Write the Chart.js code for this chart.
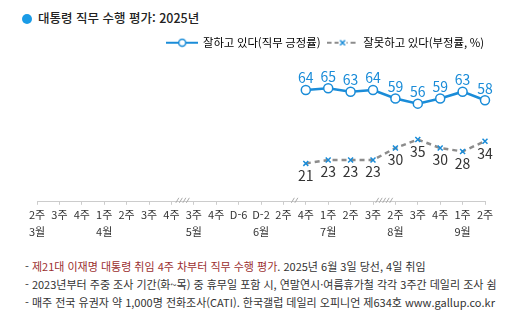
<!DOCTYPE html>
<html lang="ko">
<head>
<meta charset="utf-8">
<script src="https://cdn.jsdelivr.net/npm/chart.js@4"></script>
<style>
  html, body { margin: 0; padding: 0; background: #fff; }
  body { width: 509px; height: 324px; position: relative; overflow: hidden; font-family: 'Noto Sans CJK KR', sans-serif; color: #333; }
  #title { position: absolute; left: 22px; top: 9px; font-size: 12.5px; font-weight: 500; color: #222; line-height: 18px; white-space: nowrap; }
  #title .dot { display: inline-block; width: 10px; height: 10px; border-radius: 50%; background: #1a9be6; margin-right: 6px; vertical-align: -1px; }
  #wrap { position: absolute; left: 0; top: 30px; width: 509px; height: 220px; }
  #notes { position: absolute; left: 25px; top: 257px; font-size: 11px; line-height: 18px; white-space: nowrap; color: #333; }
  .red { color: #9b2f2f; }
</style>
</head>
<body>
<div id="title"><span class="dot"></span>대통령 직무 수행 평가: 2025년</div>
<div id="wrap"><canvas id="myChart"></canvas></div>
<div id="notes">
  <div>- <span class="red">제21대 이재명 대통령 취임 4주 차부터 직무 수행 평가</span>. 2025년 6월 3일 당선, 4일 취임</div>
  <div>- 2023년부터 주중 조사 기간(화~목) 중 휴무일 포함 시, 연말연시·여름휴가철 각각 3주간 데일리 조사 쉼</div>
  <div>- 매주 전국 유권자 약 1,000명 전화조사(CATI). 한국갤럽 데일리 오피니언 제634호 www.gallup.co.kr</div>
</div>
<script>
const weekLabels = ["2주", "3주", "4주", "1주", "2주", "3주", "4주", "3주", "4주", "D-6", "D-2", "2주", "4주", "1주", "2주", "3주", "2주", "3주", "4주", "1주", "2주"];
const monthLabels = ["3월", "", "", "4월", "", "", "", "5월", "", "", "6월", "", "", "7월", "", "", "8월", "", "", "9월", ""];
const approve = [null, null, null, null, null, null, null, null, null, null, null, null, 64, 65, 63, 64, 59, 56, 59, 63, 58];
const disapprove = [null, null, null, null, null, null, null, null, null, null, null, null, 21, 23, 23, 23, 30, 35, 30, 28, 34];
// 조사 쉰 구간 (앞 주 인덱스, 빗금 수)
const breaksAfter = [6, 11, 15];
const breakSlashes = [4, 2, 5];

const BLUE = "#1a8cd8";
const GRAY = "#8c8c8c";

Chart.defaults.font.family = "'Noto Sans CJK KR', sans-serif";
Chart.defaults.color = "#333";

// 범례 아이콘 (선 + 표식)
function legendIcon(dashed) {
  const c = document.createElement("canvas");
  c.width = 32; c.height = 10;
  const g = c.getContext("2d");
  g.lineWidth = 2;
  g.strokeStyle = dashed ? GRAY : BLUE;
  if (dashed) g.setLineDash([5, 3]);
  g.beginPath(); g.moveTo(0, 5); g.lineTo(32, 5); g.stroke();
  g.setLineDash([]);
  g.lineWidth = 1.5;
  g.strokeStyle = BLUE;
  if (dashed) {
    g.beginPath();
    g.moveTo(13.5, 2.5); g.lineTo(18.5, 7.5);
    g.moveTo(18.5, 2.5); g.lineTo(13.5, 7.5);
    g.fillStyle = "#fff"; g.fillRect(12, 1, 8, 8);
    g.stroke();
  } else {
    g.beginPath(); g.arc(16, 5, 3.5, 0, Math.PI * 2);
    g.fillStyle = "#fff"; g.fill(); g.stroke();
  }
  return c;
}

const valueLabels = {
  id: "valueLabels",
  afterDatasetsDraw(chart, args, opts) {
    const ctx = chart.ctx;
    chart.data.datasets.forEach((ds, i) => {
      const meta = chart.getDatasetMeta(i);
      meta.data.forEach((pt, j) => {
        const v = ds.data[j];
        if (v == null) return;
        ctx.save();
        ctx.font = "14px 'Noto Sans CJK KR'";
        ctx.fillStyle = opts.colors[i];
        ctx.textAlign = "center";
        ctx.textBaseline = "middle";
        ctx.fillText(v, pt.x, pt.y + opts.offsets[i]);
        ctx.restore();
      });
    });
  }
};

const axisBreaks = {
  id: "axisBreaks",
  afterDraw(chart) {
    const ctx = chart.ctx;
    const xs = chart.scales.x;
    const y = chart.chartArea.bottom;
    ctx.save();
    ctx.strokeStyle = "#aaa";
    ctx.lineWidth = 1;
    breaksAfter.forEach((idx, k) => {
      const mid = (xs.getPixelForValue(idx) + xs.getPixelForValue(idx + 1)) / 2;
      const n = breakSlashes[k];
      for (let s = 0; s < n; s++) {
        const sx = mid + (s - (n - 1) / 2) * 3.5;
        ctx.beginPath();
        ctx.moveTo(sx - 1.5, y + 1);
        ctx.lineTo(sx + 1.5, y - 4);
        ctx.stroke();
      }
    });
    ctx.restore();
  }
};

// 범례를 오른쪽으로 조금 밀기
const legendShift = {
  id: "legendShift",
  afterLayout(chart) {
    chart.legend.left += 6;
    chart.legend.right += 6;
  }
};

const labels = weekLabels.map((w, i) => [w, monthLabels[i]]);

new Chart(document.getElementById("myChart"), {
  type: "line",
  data: {
    labels: labels,
    datasets: [
      {
        label: "잘하고 있다(직무 긍정률)",
        data: approve,
        borderColor: BLUE,
        borderWidth: 2.5,
        pointRadius: 4.5,
        pointBackgroundColor: "#fff",
        pointBorderColor: BLUE,
        pointBorderWidth: 1.5,
        pointStyle: "circle",
        tension: 0
      },
      {
        label: "잘못하고 있다(부정률, %)",
        data: disapprove,
        borderColor: GRAY,
        borderWidth: 2.5,
        borderDash: [5, 4],
        pointRadius: 3.5,
        pointStyle: "crossRot",
        pointBorderColor: BLUE,
        pointBorderWidth: 1.5,
        tension: 0
      }
    ]
  },
  options: {
    responsive: true,
    maintainAspectRatio: false,
    animation: false,
    layout: { padding: { left: 37, right: 24, top: 0, bottom: 8 } },
    plugins: {
      legend: {
        align: "end",
        labels: {
          usePointStyle: true,
          pointStyleWidth: 30,
          padding: 7,
          font: { size: 11.4 },
          color: "#333",
          generateLabels: () => [
            { text: "잘하고 있다(직무 긍정률)", pointStyle: legendIcon(false), lineWidth: 0, fillStyle: "#fff", strokeStyle: "#fff" },
            { text: "잘못하고 있다(부정률, %)", pointStyle: legendIcon(true), lineWidth: 0, fillStyle: "#fff", strokeStyle: "#fff" }
          ]
        }
      },
      tooltip: { enabled: false },
      valueLabels: { colors: [BLUE, "#333"], offsets: [-12, 12] }
    },
    scales: {
      x: {
        offset: false,
        grid: { drawOnChartArea: false, drawTicks: true, tickLength: 3, color: "#ccc" },
        border: { color: "#ccc" },
        ticks: { autoSkip: false, maxRotation: 0, padding: 1, font: { size: 11, lineHeight: 1.6 }, color: "#333" }
      },
      y: { display: false, min: -1.5, max: 82.5 }
    }
  },
  plugins: [valueLabels, axisBreaks, legendShift]
});
</script>
</body>
</html>
